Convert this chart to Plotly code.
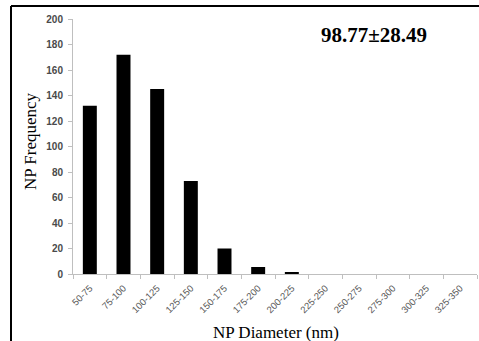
import plotly.graph_objects as go

categories = ["50-75", "75-100", "100-125", "125-150", "150-175", "175-200",
              "200-225", "225-250", "250-275", "275-300", "300-325", "325-350"]
frequency = [132, 172, 145, 73, 20, 5.5, 1.5, 0, 0, 0, 0, 0]
y_ticks = [0, 20, 40, 60, 80, 100, 120, 140, 160, 180, 200]
stat_label = "98.77±28.49"

W, H = 479, 341
L, R, T, B = 73, 2, 19, 67
pw, ph = W - L - R, H - T - B

def px(x):
    return (x - L) / pw

def py(y):
    return (H - B - y) / ph

fig = go.Figure(go.Bar(
    x=categories, y=frequency,
    marker=dict(color="black", line=dict(width=0)),
))

fig.update_layout(
    width=W, height=H,
    margin=dict(l=L, r=R, t=T, b=B, autoexpand=False),
    plot_bgcolor="white", paper_bgcolor="white",
    bargap=0.585,
    showlegend=False,
    font=dict(family="Liberation Sans", color="#404040"),
)
fig.update_xaxes(
    type="category", automargin=False,
    showline=True, linecolor="#bfbfbf", linewidth=1,
    ticks="outside", ticklen=4, tickcolor="#bfbfbf", tickson="boundaries",
    tickangle=-45, ticklabelstandoff=4,
    tickfont=dict(size=9.5, color="#595959", family="Liberation Sans"),
    showgrid=False, zeroline=False,
)
fig.update_yaxes(
    range=[0, 200], tickvals=y_ticks, automargin=False,
    showline=True, linecolor="#bfbfbf", linewidth=1,
    ticks="outside", ticklen=4, tickcolor="#bfbfbf", ticklabelstandoff=3,
    tickfont=dict(size=10, color="#4a4a4a", family="Liberation Sans", weight="bold"),
    showgrid=False, zeroline=False,
)

fig.add_shape(type="line", xref="paper", yref="paper",
              x0=px(11), x1=px(479), y0=py(6), y1=py(6),
              line=dict(color="black", width=2))
fig.add_shape(type="line", xref="paper", yref="paper",
              x0=px(11), x1=px(11), y0=py(6), y1=py(341),
              line=dict(color="black", width=2))

fig.add_annotation(text="<b>" + stat_label + "</b>", xref="paper", yref="paper",
                   x=px(374), y=py(35), showarrow=False,
                   xanchor="center", yanchor="middle",
                   font=dict(family="Liberation Serif", size=21, color="black"))
fig.add_annotation(text="NP Frequency", xref="paper", yref="paper",
                   x=px(30), y=py(141), showarrow=False, textangle=-90,
                   xanchor="center", yanchor="middle",
                   font=dict(family="Liberation Serif", size=17, color="black"))
fig.add_annotation(text="NP Diameter (nm)", xref="paper", yref="paper",
                   x=px(276), y=py(332), showarrow=False,
                   xanchor="center", yanchor="middle",
                   font=dict(family="Liberation Serif", size=17, color="black"))

fig.write_html(
    "out.html", config={"displayModeBar": False},
    post_script=("document.documentElement.style.overflow='hidden';"
                 "document.body.style.margin='0';document.body.style.overflow='hidden';"),
)
